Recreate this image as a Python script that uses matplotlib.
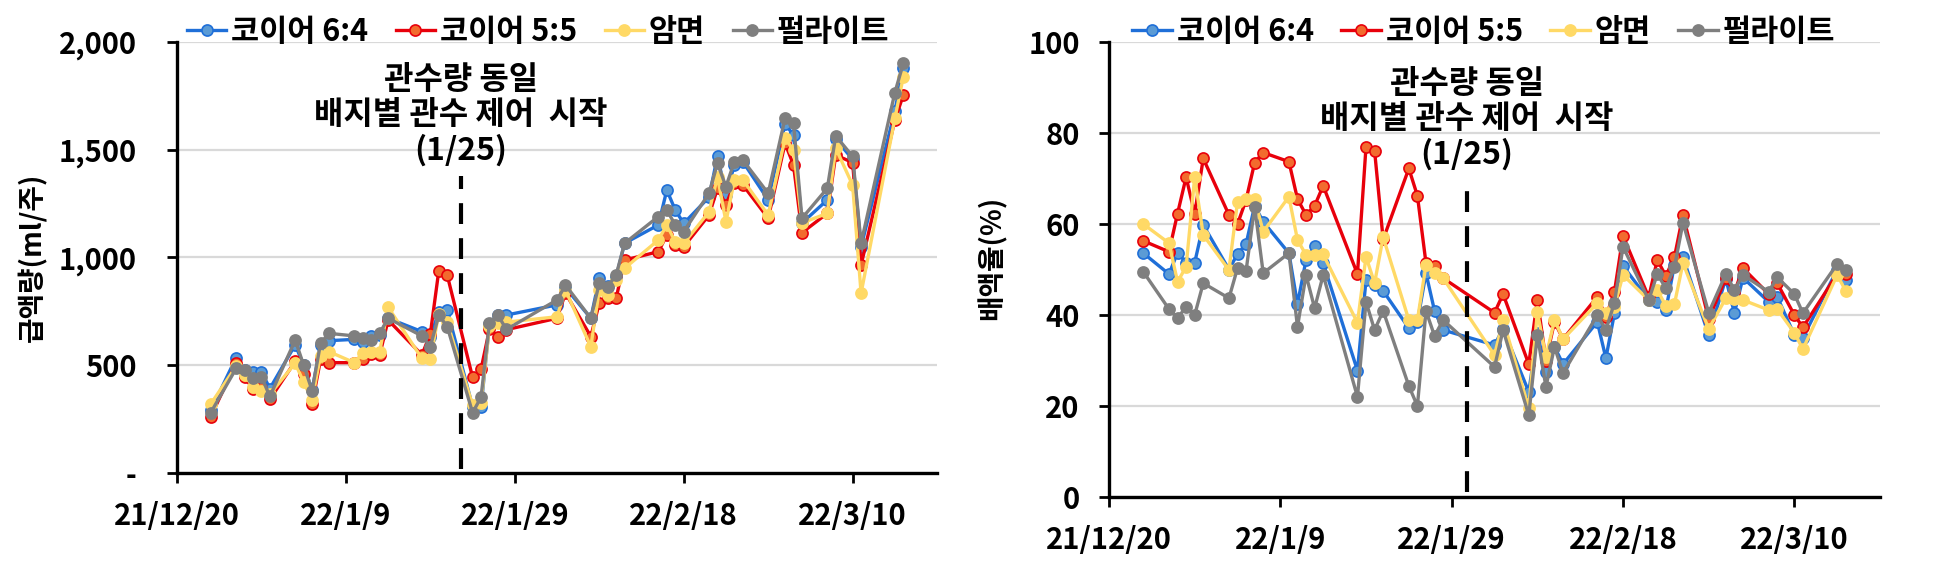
import matplotlib
matplotlib.use("Agg")
import matplotlib.pyplot as plt
from matplotlib.ticker import FuncFormatter
import pandas as pd

plt.rcParams['font.family'] = ['Noto Sans CJK KR', 'DejaVu Sans']
plt.rcParams['font.weight'] = 'bold'

dates = ['2021-12-24', '2021-12-27', '2021-12-28', '2021-12-29', '2021-12-30', '2021-12-31',
         '2022-01-03', '2022-01-04', '2022-01-05', '2022-01-06', '2022-01-07', '2022-01-10',
         '2022-01-11', '2022-01-12', '2022-01-13', '2022-01-14', '2022-01-18', '2022-01-19',
         '2022-01-20', '2022-01-21', '2022-01-24', '2022-01-25', '2022-01-26', '2022-01-27',
         '2022-01-28', '2022-02-03', '2022-02-04', '2022-02-07', '2022-02-08', '2022-02-09',
         '2022-02-10', '2022-02-11', '2022-02-15', '2022-02-16', '2022-02-17', '2022-02-18',
         '2022-02-21', '2022-02-22', '2022-02-23', '2022-02-24', '2022-02-25', '2022-02-28',
         '2022-03-02', '2022-03-03', '2022-03-04', '2022-03-07', '2022-03-08', '2022-03-10',
         '2022-03-11', '2022-03-15', '2022-03-16']

series_names = ['코이어 6:4', '코이어 5:5', '암면', '펄라이트']

# 급액량 (ml/주)
supply_coir64 = [290, 535, 480, 470, 470, 392, 595, 500, 385, 595, 614, 620, 610, 636, 640, 718,
                 656, 630, 748, 756, 308, 305, 690, 735, 733, 780, 860, 718, 903, 870, 910, 1066,
                 1151, 1313, 1220, 1158, 1280, 1471, 1290, 1429, 1445, 1267, 1620, 1568, 1160,
                 1267, 1550, 1455, 1050, 1680, 1878]
supply_coir55 = [262, 510, 445, 390, 395, 342, 518, 460, 320, 527, 512, 512, 530, 550, 547, 710,
                 548, 646, 939, 918, 444, 481, 667, 633, 665, 718, 835, 633, 788, 811, 811, 988,
                 1027, 1104, 1058, 1050, 1197, 1321, 1244, 1344, 1337, 1182, 1530, 1429, 1115,
                 1205, 1476, 1440, 965, 1638, 1754]
supply_rockwool = [320, 495, 455, 400, 380, 365, 510, 420, 340, 545, 563, 512, 555, 563, 563, 769,
                   532, 528, 740, 700, 315, 325, 680, 696, 700, 725, 849, 586, 849, 826, 896, 950,
                   1081, 1151, 1073, 1065, 1212, 1375, 1166, 1360, 1360, 1197, 1553, 1499, 1160,
                   1205, 1507, 1336, 834, 1645, 1839]
supply_perlite = [280, 485, 478, 440, 447, 355, 617, 500, 382, 602, 648, 636, 625, 617, 648, 718,
                  636, 586, 733, 679, 280, 351, 697, 733, 666, 803, 872, 718, 880, 865, 919, 1066,
                  1190, 1220, 1151, 1120, 1298, 1437, 1329, 1445, 1452, 1298, 1646, 1623, 1182,
                  1321, 1564, 1469, 1066, 1765, 1901]

# 배액율 (%)
drain_coir64 = [53.6, 49.0, 53.7, 51.5, 51.5, 59.8, 50.0, 53.4, 55.6, 64.0, 60.5, 53.6, 42.4, 52.1,
                55.2, 51.4, 27.8, 47.7, 46.5, 45.3, 37.1, 38.5, 49.2, 40.9, 36.7, 33.4, 37.0, 23.1,
                36.0, 27.5, 33.0, 29.2, 38.5, 30.5, 40.4, 50.8, 43.3, 42.9, 41.1, 51.0, 52.7, 35.6,
                48.0, 40.4, 48.2, 42.9, 44.0, 35.6, 35.0, 50.0, 47.7]
drain_coir55 = [56.3, 53.9, 62.3, 70.3, 62.2, 74.4, 62.0, 60.0, 65.3, 73.5, 75.7, 73.7, 65.5, 62.0,
                64.0, 68.4, 49.0, 77.0, 76.1, 56.6, 72.2, 66.2, 51.4, 50.8, 48.1, 40.5, 44.6, 29.2,
                43.4, 30.0, 38.5, 34.7, 44.0, 39.6, 45.1, 57.4, 43.9, 52.1, 48.6, 52.7, 62.0, 39.1,
                48.1, 45.0, 50.3, 44.6, 47.0, 40.0, 37.3, 49.0, 49.0]
drain_rockwool = [60.0, 55.8, 47.3, 50.6, 70.3, 57.6, 49.9, 64.9, 65.6, 65.5, 58.3, 66.0, 56.5, 53.2,
                  53.2, 53.3, 38.3, 52.8, 47.0, 57.1, 38.9, 38.9, 51.0, 49.2, 48.1, 31.2, 38.9, 19.5,
                  40.7, 30.8, 38.9, 34.7, 42.6, 40.4, 41.8, 48.8, 43.3, 45.5, 42.0, 42.4, 51.4, 36.9,
                  43.7, 43.5, 43.3, 41.1, 41.3, 36.1, 32.5, 48.8, 45.3]
drain_perlite = [49.5, 41.3, 39.3, 41.8, 40.0, 47.0, 43.7, 50.3, 49.7, 63.8, 49.2, 53.6, 37.4, 48.8,
                 41.5, 48.8, 22.0, 42.9, 36.7, 40.9, 24.4, 20.0, 40.9, 35.4, 38.9, 28.6, 36.7, 18.0,
                 35.6, 24.2, 33.0, 27.2, 40.0, 36.7, 42.7, 55.0, 43.3, 49.0, 45.9, 50.5, 60.3, 40.5,
                 49.0, 45.5, 48.8, 45.1, 48.3, 44.6, 40.4, 51.2, 50.0]

x = pd.to_datetime(dates)
styles = [
    dict(color='#1F6FD8', mfc='#5B9BD5', mec='#1F6FD8'),
    dict(color='#E8000B', mfc='#F26B2E', mec='#E8000B'),
    dict(color='#FFD966', mfc='#FFD966', mec='#FFD966'),
    dict(color='#7F7F7F', mfc='#7F7F7F', mec='#7F7F7F'),
]
note = '관수량 동일\n배지별 관수 제어  시작\n(1/25)'

fig = plt.figure(figsize=(19.47, 5.63), dpi=100)
ax1 = fig.add_axes([0.0909, 0.1599, 0.3904, 0.7655])
ax2 = fig.add_axes([0.5696, 0.1172, 0.3960, 0.8082])


def draw(ax, data, ymax, ystep, dash_at, dash_top, fmt, label, label_xy, legend_y, legend_x, ypad):
    for vals, name, st in zip(data, series_names, styles):
        ax.plot(x, vals, '-o', lw=2.4, ms=8, mew=1.2, label=name, zorder=3, **st)
    ax.set_ylim(0, ymax)
    ax.set_xlim(pd.Timestamp('2021-12-20'), pd.Timestamp('2022-03-20'))
    ax.set_yticks(range(0, ymax + 1, ystep))
    ax.yaxis.set_major_formatter(FuncFormatter(fmt))
    ticks = pd.date_range('2021-12-20', periods=5, freq='20D')
    ax.set_xticks(ticks)
    ax.set_xticklabels([f"{d:%y}/{d.month}/{d.day}" for d in ticks])
    ax.grid(axis='y', color='#D9D9D9', lw=1.6, zorder=0)
    ax.set_axisbelow(True)
    for s in ['top', 'right']:
        ax.spines[s].set_visible(False)
    for s in ['left', 'bottom']:
        ax.spines[s].set_linewidth(2.4)
    ax.tick_params(axis='both', length=7, width=2, direction='out', labelsize=21)
    ax.tick_params(axis='x', pad=13)
    ax.tick_params(axis='y', pad=ypad)
    ax.vlines(dash_at, ymax * 0.01, dash_top, colors='black', lw=3,
              linestyles=(0, (5, 3.4)), zorder=4)
    ax.text(dash_at, 0.83, note, transform=ax.get_xaxis_transform(), ha='center',
            va='center', fontsize=23, fontweight='bold', linespacing=1.12)
    ax.set_ylabel(label, fontsize=20, fontweight='bold')
    ax.yaxis.set_label_coords(*label_xy)
    ax.legend(loc='center', bbox_to_anchor=(legend_x, legend_y), ncol=4, frameon=False,
              fontsize=22, handlelength=1.3, handletextpad=0.15, columnspacing=0.9,
              borderaxespad=0)


draw(ax1, [supply_coir64, supply_coir55, supply_rockwool, supply_perlite], 2000, 500,
     pd.Timestamp('2022-01-22 14:00'), 1380,
     lambda v, p: '-' if v == 0 else f'{int(v):,}',
     '급액량(ml/주)', (-0.171, 0.5), 1.023, 0.475, 22)
draw(ax2, [drain_coir64, drain_coir55, drain_rockwool, drain_perlite], 100, 20,
     pd.Timestamp('2022-01-30 18:00'), 67.5,
     lambda v, p: f'{int(v)}',
     '배액율(%)', (-0.133, 0.525), 1.022, 0.486, 14)

fig.savefig('out.png', dpi=100)
